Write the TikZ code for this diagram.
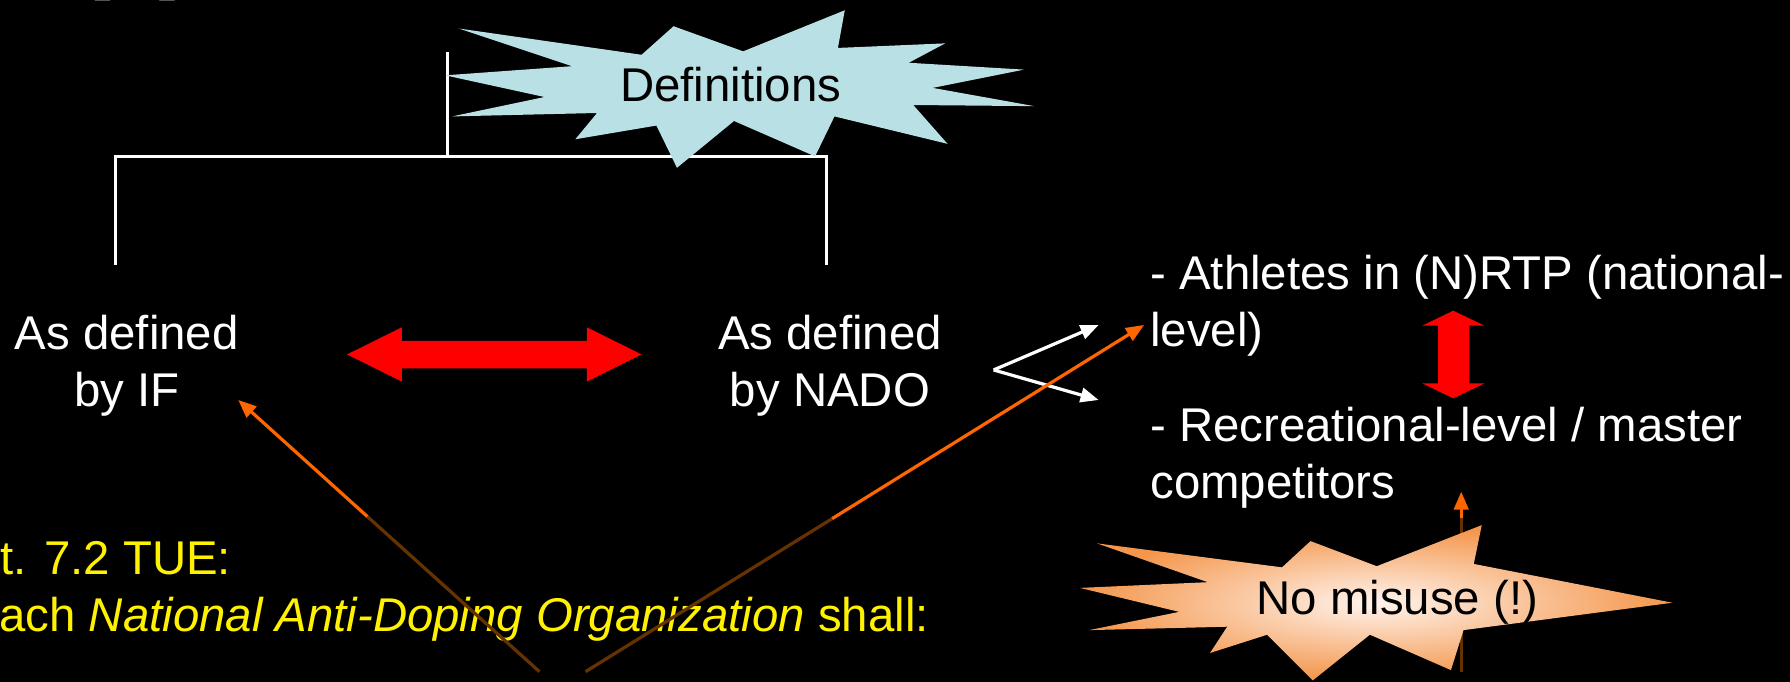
\documentclass[tikz,border=0pt]{standalone}
\usepackage{fontspec}
\setmainfont{Liberation Sans}
\usetikzlibrary{arrows.meta}
\definecolor{defcyan}{RGB}{185,224,228}
\definecolor{arrorange}{RGB}{255,102,0}
\definecolor{arrbrown}{RGB}{102,51,0}
\definecolor{burstorange}{RGB}{244,150,75}
\definecolor{burstlight}{RGB}{255,244,238}
\begin{document}
\begin{tikzpicture}[x=0.01cm,y=-0.01cm,
  txt/.style={font=\fontsize{11.8}{14.2}\selectfont, inner sep=0pt},
  wtxt/.style={txt,text=white},
  ytxt/.style={txt,text=yellow},
  bracket/.style={draw=white,line width=0.6pt},
  tip/.style={-{Triangle[length=4.5pt,width=3.6pt]}},
  warrow/.style={draw=white,line width=0.8pt,tip},
  oarrow/.style={draw=arrorange,line width=0.8pt,tip},
  bline/.style={draw=arrbrown,line width=0.8pt},
  redarrow/.style={fill=red},
]
\useasboundingbox (0,0) rectangle (1568,597.4);
\fill[black] (0,0) rectangle (1568,597.4);
\clip (0,0) rectangle (1568,597.4);

% title fragment (only the lower tips of the brackets are visible)
\node[font=\fontsize{28}{30}\selectfont\bfseries, text=white, inner sep=0pt, anchor=base west] (title) at (64,-19.5) {(\hspace{0.43em})};

% bracket
\coordinate (brL) at (101,232);
\coordinate (brLt) at (101,137);
\coordinate (brRt) at (724,137);
\coordinate (brR) at (724,232);
\coordinate (stemTop) at (392,46);
\coordinate (stemBot) at (392,137);
\draw[bracket] (brL) -- (brLt) -- (brRt) -- (brR);
\draw[bracket] (stemTop) -- (stemBot);

% Definitions burst
\fill[defcyan] (390,66) -- (501,58) -- (402,25) -- (562,48) -- (590,23) -- (651,45) -- (740,9) -- (734,42)
  -- (828,38) -- (796,55) -- (897,61) -- (817,77) -- (906,93) -- (800,92) -- (830,126) -- (731,102)
  -- (714,137) -- (643,106) -- (593,147) -- (575,110) -- (504,122) -- (523,99) -- (396,102) -- (477,85) -- cycle;
\node[txt, anchor=base] (defs) at (640,89) {Definitions};

% left / middle texts
\node[wtxt, anchor=base] (if1) at (111,306.6) {As defined};
\node[wtxt, anchor=base] (if2) at (111,356.2) {by IF};
\node[wtxt, anchor=base] (nado1) at (727,306.6) {As defined};
\node[wtxt, anchor=base] (nado2) at (727,356.2) {by NADO};

% red double arrows
\fill[redarrow] (304,310.5) -- (352,286.7) -- (352,298.7) -- (514,298.7) -- (514,286.7) -- (562,310.5)
  -- (514,334.3) -- (514,322.7) -- (352,322.7) -- (352,334.3) -- cycle;
\fill[redarrow] (1273,272.2) -- (1300.5,285.3) -- (1287.1,285.3) -- (1287.1,335.8) -- (1300.5,335.8)
  -- (1273,349) -- (1245.8,335.8) -- (1259.7,335.8) -- (1259.7,285.3) -- (1245.8,285.3) -- cycle;

% right texts
\node[wtxt, anchor=base west] (ath1) at (1007,254) {- Athletes in (N)RTP (national-};
\node[wtxt, anchor=base west] (ath2) at (1007,303.7) {level)};
\node[wtxt, anchor=base west] (rec1) at (1007,386.9) {- Recreational-level / master};
\node[wtxt, anchor=base west] (rec2) at (1007,436.5) {competitors};

% white fork arrows
\coordinate (fork) at (870.4,324.1);
\coordinate (wt1) at (962.4,284.7);
\coordinate (wt2) at (962.4,350.4);
\draw[warrow] (fork) -- (wt1);
\draw[warrow] (fork) -- (wt2);

% yellow text
\node[ytxt, anchor=base west] (art1) at (-42,503.7) {Art. 7.2 TUE:};
\node[ytxt, anchor=base west] (art2) at (-29,553) {Each \textit{National Anti-Doping Organization} shall:};

% orange arrows
\coordinate (lb) at (472.6,588.4);
\coordinate (lm) at (321.8,452.5);
\coordinate (lt) at (208.7,350.4);
\draw[bline] (lb) -- (lm);
\draw[oarrow] (lm) -- (lt);
\coordinate (rb) at (512.9,588.4);
\coordinate (rm) at (729,454.3);
\coordinate (rt) at (1002.2,284.7);
\draw[bline] (rb) -- (rm);
\draw[oarrow] (rm) -- (rt);
\coordinate (sb) at (1280,588.4);
\coordinate (sm) at (1280,454);
\coordinate (st) at (1280,430.7);
\draw[bline] (sb) -- (sm);
\draw[oarrow] (sm) -- (st);

% No misuse burst
\shade[inner color=burstlight, outer color=burstorange] (961,476) -- (1123,497) -- (1148,474) -- (1206,496)
  -- (1298,460) -- (1291,494) -- (1465,528) -- (1282,552) -- (1271,587) -- (1200,556) -- (1150,596)
  -- (1110,556) -- (1060,572) -- (1075,549) -- (954,552) -- (1033,536) -- (946,515) -- (1058,510) -- cycle;
\node[txt, anchor=base] (nomis) at (1224,538.7) {No misuse (!)};
\end{tikzpicture}
\end{document}
